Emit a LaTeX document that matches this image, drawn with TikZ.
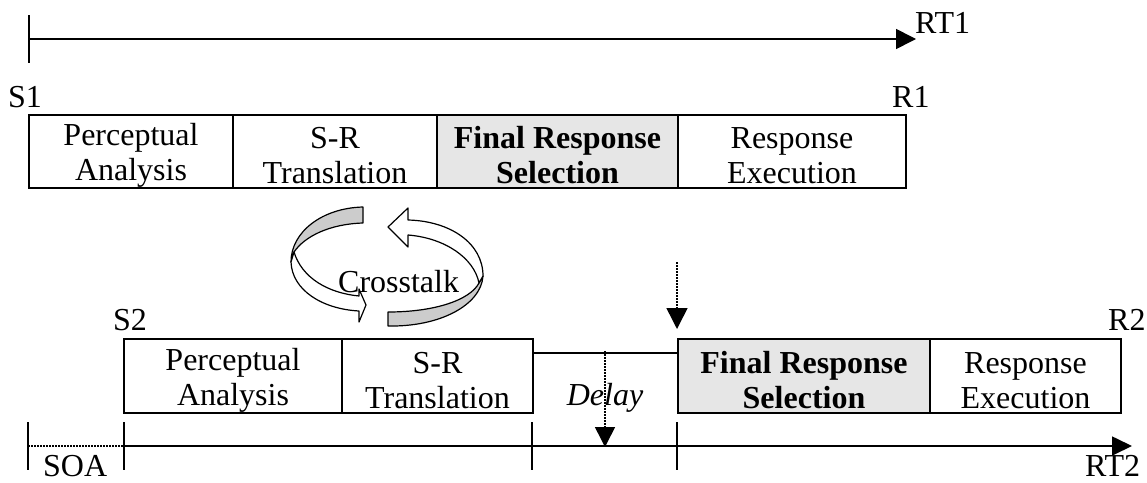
\documentclass[tikz,border=0pt]{standalone}
\usepackage{fontspec}
\setmainfont{Liberation Serif}
\usetikzlibrary{arrows.meta}
\definecolor{boxgray}{HTML}{E6E6E6}
\definecolor{ribgray}{HTML}{CCCCCC}
\newcommand{\lowstrut}{\rule{0pt}{30pt}}
\begin{document}
\begin{tikzpicture}[x=1pt,y=-1pt,
  every node/.style={font=\fontsize{32}{35}\selectfont, inner sep=0pt},
  stagebox/.style={draw, line width=1.8pt, align=center},
  graybox/.style={stagebox, fill=boxgray, font=\fontsize{32}{35}\selectfont\bfseries},
  axis/.style={line width=1.6pt},
  axisarrow/.style={line width=1.6pt, -{Triangle[length=20pt,width=20pt]}},
  tick/.style={line width=1.6pt},
  dotline/.style={line width=1.5pt, dash pattern=on 1.5pt off 1.5pt},
  dotarrow/.style={dotline, -{Triangle[length=21pt,width=21pt]}},
  lbl/.style={anchor=base west},
  rib/.style={line width=1.2pt, line join=round}
]
\useasboundingbox (0,0) rectangle (1147,482);

% ---------- RT1 axis ----------
\coordinate (t1a) at (29,15);
\coordinate (t1b) at (29,63);
\coordinate (rt1s) at (29,39);
\coordinate (rt1e) at (916,39);
\draw[tick] (t1a) -- (t1b);
\draw[axisarrow] (rt1s) -- (rt1e);
\node[lbl] (rt1) at (915,33) {RT1};

% ---------- Task 1 ----------
\node[lbl] (s1) at (8,107) {S1};
\node[lbl] (r1) at (892,107) {R1};
\node[stagebox, minimum width=204pt, minimum height=73pt] (pa1) at (131,151.5) {\lowstrut Perceptual\\Analysis};
\node[stagebox, minimum width=204pt, minimum height=73pt] (sr1) at (335,151.5) {\lowstrut S-R\\Translation};
\node[graybox, minimum width=241pt, minimum height=73pt] (fs1) at (557.5,151.5) {\lowstrut Final Response\\Selection};
\node[stagebox, minimum width=228pt, minimum height=73pt] (re1) at (792,151.5) {\lowstrut Response\\Execution};

% ---------- Crosstalk arrows ----------
\draw[rib, fill=ribgray] (363,207) .. controls (322,208) and (291,232) .. (291,262)
   -- (294,252) .. controls (305,236) and (330,224) .. (363,223) -- cycle;
\draw[rib, fill=white] (294,252) .. controls (302,278) and (328,293) .. (359,296)
   -- (359,289) -- (366,305) -- (359,322) -- (359,311)
   .. controls (322,309) and (292,290) .. (291,262) -- cycle;
\draw[rib, fill=ribgray] (388,326) .. controls (440,327) and (481,305) .. (483,276)
   -- (479,283) .. controls (470,300) and (435,312) .. (388,312) -- cycle;
\draw[rib, fill=white] (408,220) .. controls (450,221) and (483,243) .. (483,276)
   -- (479,283) .. controls (474,258) and (445,238) .. (408,235)
   -- (408,247) -- (388,227) -- (408,208) -- cycle;
\node[lbl] (ct) at (338,292) {Crosstalk};

% dotted arrow from end of task-1 selection
\coordinate (d1s) at (677,262);
\coordinate (d1e) at (677,329);
\draw[dotarrow] (d1s) -- (d1e);

% ---------- Task 2 ----------
\node[lbl] (s2) at (113,330) {S2};
\node[lbl] (r2) at (1108,330) {R2};
\node[stagebox, minimum width=218pt, minimum height=74pt] (pa2) at (233,376) {\lowstrut Perceptual\\Analysis};
\node[stagebox, minimum width=191pt, minimum height=74pt] (sr2) at (437.5,376) {\lowstrut S-R\\Translation};
\node[graybox, minimum width=252pt, minimum height=74pt] (fs2) at (804,376) {\lowstrut Final Response\\Selection};
\node[stagebox, minimum width=191pt, minimum height=74pt] (re2) at (1025.5,376) {\lowstrut Response\\Execution};
\coordinate (g1) at (533,353);
\coordinate (g2) at (678,353);
\draw[axis] (g1) -- (g2);
\node[anchor=base, font=\fontsize{32}{35}\selectfont\itshape] (delay) at (605,405) {Delay};
\coordinate (d2s) at (605,351);
\coordinate (d2e) at (605,447);
\draw[dotline, -{Triangle[length=20pt,width=20pt]}] (d2s) -- (d2e);

% ---------- RT2 axis ----------
\coordinate (k0a) at (28,422); \coordinate (k0b) at (28,470);
\coordinate (k1a) at (124,422); \coordinate (k1b) at (124,470);
\coordinate (k2a) at (532,422); \coordinate (k2b) at (532,470);
\coordinate (k3a) at (677,422); \coordinate (k3b) at (677,470);
\draw[tick] (k0a) -- (k0b);
\draw[tick] (k1a) -- (k1b);
\draw[tick] (k2a) -- (k2b);
\draw[tick] (k3a) -- (k3b);
\coordinate (soa0) at (28,446);
\coordinate (rt2s) at (124,446);
\coordinate (rt2e) at (1132,446);
\draw[dotline] (soa0) -- (rt2s);
\draw[axis, -{Triangle[length=20pt,width=19pt]}] (rt2s) -- (rt2e);
\node[lbl] (soa) at (43,476) {SOA};
\node[lbl] (rt2) at (1085,476.5) {RT2};
\end{tikzpicture}
\end{document}
